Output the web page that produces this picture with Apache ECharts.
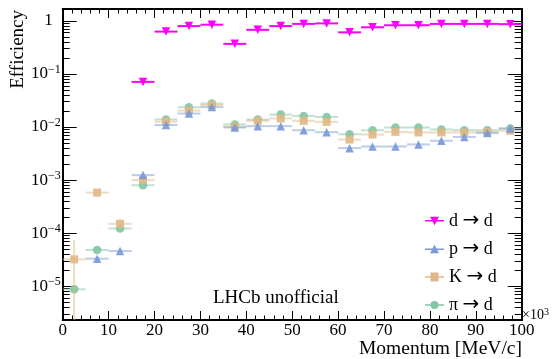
<!DOCTYPE html>
<html><head><meta charset="utf-8">
<script src="https://cdn.jsdelivr.net/npm/echarts@6/dist/echarts.min.js"></script>
<style>html,body{margin:0;padding:0;background:#fff}#c{width:553px;height:359px}</style>
</head><body><div id="c"></div>
<script>
// ---- data ----
const binCenters = [2.5, 7.5, 12.5, 17.5, 22.5, 27.5, 32.5, 37.5, 42.5, 47.5, 52.5, 57.5, 62.5, 67.5, 72.5, 77.5, 82.5, 87.5, 92.5, 97.5];
const binHalfWidth = 2.5;
const effDtoD  = [null, null, null, 0.071, 0.63, 0.80, 0.85, 0.37, 0.68, 0.80, 0.88, 0.90, 0.61, 0.76, 0.83, 0.83, 0.88, 0.88, 0.88, 0.87];
const effPtoD  = [null, 3.3e-5, 4.6e-5, 1.24e-3, 0.0109, 0.018, 0.0238, 0.0098, 0.0104, 0.0104, 0.0087, 0.0080, 0.0040, 0.0043, 0.0043, 0.0047, 0.0055, 0.0065, 0.0077, 0.0094];
const effKtoD  = [3.2e-5, 5.8e-4, 1.5e-4, 1.0e-3, 0.0126, 0.0204, 0.026, 0.0101, 0.0131, 0.0145, 0.0131, 0.0125, 0.0058, 0.0072, 0.0081, 0.0079, 0.0079, 0.0079, 0.0081, 0.0085];
const effPiToD = [8.7e-6, 4.8e-5, 1.22e-4, 8.0e-4, 0.0139, 0.0235, 0.0277, 0.0112, 0.0138, 0.0172, 0.0162, 0.0155, 0.0073, 0.0087, 0.0098, 0.0098, 0.0090, 0.0087, 0.0087, 0.0094];
// vertical error bars that are larger than the markers
const kErrBins = [0];   const kErrLow = [1e-9];  const kErrHigh = [7.4e-5];
const xTickLabels = ['0','10','20','30','40','50','60','70','80','90','100'];
const yDecadeTicks = [1e-5, 1e-4, 1e-3, 1e-2, 1e-1, 1];
const seriesNames = ['d \u2192 d', 'p \u2192 d', 'K \u2192 d', '\u03c0 \u2192 d'];

// ---- style ----
const FONT = "'Liberation Serif', 'DejaVu Serif', serif";
const Y_MIN = 2.3e-6, Y_MAX = 1.68;
const yMinorTicks = [];
for (let e = -6; e <= 0; e++) for (let k = 2; k <= 9; k++) { const v = k * Math.pow(10, e); if (v > Y_MIN && v < Y_MAX) yMinorTicks.push(v); }

const defs = [
  {name: seriesNames[3], values: effPiToD, color: '#84c6a4', bar: 'rgba(132,198,164,0.5)', symbol: 'circle', size: 8.5, rot: 0, eb: [], el: [], eh: [],
   icon: 'path://M0,4.2L19,4.2L19,5.8L0,5.8Z M5.5,5 A4,4 0 1,1 13.5,5 A4,4 0 1,1 5.5,5Z'},
  {name: seriesNames[2], values: effKtoD, color: '#e0b887', bar: 'rgba(224,184,135,0.5)', symbol: 'rect', size: 8, rot: 0, eb: kErrBins, el: kErrLow, eh: kErrHigh,
   icon: 'path://M0,4.2L19,4.2L19,5.8L0,5.8Z M5.5,0.5L13.5,0.5L13.5,9.5L5.5,9.5Z'},
  {name: seriesNames[1], values: effPtoD, color: '#7a99d8', bar: 'rgba(122,153,216,0.5)', symbol: 'triangle', size: 8.5, rot: 0, eb: [], el: [], eh: [],
   icon: 'path://M0,4.2L19,4.2L19,5.8L0,5.8Z M9.5,0.5L14,9L5,9Z'},
  {name: seriesNames[0], values: effDtoD, color: '#ff00ff', bar: '#ff00ff', symbol: 'triangle', size: 8.5, rot: 180, eb: [], el: [], eh: [],
   icon: 'path://M0,4.2L19,4.2L19,5.8L0,5.8Z M5,1L14,1L9.5,9.5Z'}
];

const series = [];
defs.forEach((s, idx) => {
  const rows = [], pts = [];
  binCenters.forEach((x, i) => {
    if (s.values[i] == null) return;
    const k = s.eb.indexOf(i);
    rows.push([x, s.values[i], k >= 0 ? s.el[k] : -1, k >= 0 ? s.eh[k] : -1]);
    pts.push([x, s.values[i]]);
  });
  series.push({
    type: 'custom', name: s.name, xAxisIndex: 0, yAxisIndex: 0, clip: true, silent: true, z: 2 + idx * 2,
    data: rows, encode: {x: 0, y: 1}, itemStyle: {color: s.color},
    renderItem(params, api) {
      const x = api.value(0), y = api.value(1), lo = api.value(2), hi = api.value(3);
      const a = api.coord([x - binHalfWidth, y]), b = api.coord([x + binHalfWidth, y]);
      const children = [{type: 'line', shape: {x1: a[0], y1: a[1], x2: b[0], y2: b[1]}, style: {stroke: s.bar, lineWidth: 2}}];
      if (lo > 0 && hi > 0) {
        const c = api.coord([x, lo]), d = api.coord([x, hi]);
        children.push({type: 'line', shape: {x1: c[0], y1: c[1], x2: d[0], y2: d[1]}, style: {stroke: s.bar, lineWidth: 2}});
      }
      return {type: 'group', children};
    }
  });
  series.push({
    type: 'scatter', name: s.name, xAxisIndex: 0, yAxisIndex: 0, z: 3 + idx * 2, silent: true,
    data: pts, symbol: s.symbol, symbolSize: s.size, symbolRotate: s.rot,
    itemStyle: {color: s.color, opacity: s.rot ? 1 : 0.92}
  });
});

const axisLine = {show: true, lineStyle: {color: '#000', width: 2}};
function yAxisDef(pos, major) {
  return {
    type: 'log', position: pos, min: Y_MIN, max: Y_MAX, logBase: 10,
    axisLine: axisLine, splitLine: {show: false},
    axisTick: {show: true, inside: true, length: major ? 14 : 7, lineStyle: {color: '#000', width: 1}, customValues: major ? yDecadeTicks : yMinorTicks},
    axisLabel: major && pos === 'left' ? {
      show: true, customValues: yDecadeTicks, margin: 2, color: '#000', fontFamily: FONT,
      formatter: v => { const e = Math.round(Math.log10(v)); return e === 0 ? '{one|1}' : '{b|10}{s|' + (e < 0 ? '\u2212' : '') + Math.abs(e) + '}'; },
      rich: {
        b: {fontSize: 17, lineHeight: 20, fontFamily: FONT, color: '#000'},
        s: {fontSize: 12, lineHeight: 12, verticalAlign: 'top', fontFamily: FONT, color: '#000'},
        one: {fontSize: 17, lineHeight: 20, fontFamily: FONT, color: '#000', padding: [0, 8, 0, 0]}
      }
    } : {show: false}
  };
}
function xAxisDef(pos, labels) {
  return {
    type: 'value', position: pos, min: 0, max: 100, interval: 10,
    axisLine: axisLine, splitLine: {show: false},
    axisTick: {show: true, inside: true, length: 9, lineStyle: {color: '#000', width: 1}},
    minorTick: {show: true, splitNumber: 5, length: 4.5, lineStyle: {color: '#000', width: 1}},
    axisLabel: labels ? {show: true, margin: 2, fontSize: 17, color: '#000', fontFamily: FONT,
      formatter: v => xTickLabels[Math.round(v / 10)]} : {show: false}
  };
}

const chart = echarts.init(document.getElementById('c'), null, {renderer: 'canvas'});
chart.setOption({
  animation: false,
  backgroundColor: '#fff',
  grid: {left: 62.7, right: 31.3, top: 9, bottom: 39, containLabel: false},
  xAxis: [xAxisDef('bottom', true), xAxisDef('top', false)],
  yAxis: [yAxisDef('left', true), yAxisDef('left', false), yAxisDef('right', true), yAxisDef('right', false)],
  legend: {
    show: true, orient: 'vertical', left: 420, top: 206, itemGap: 8, itemWidth: 19, itemHeight: 9,
    textStyle: {fontFamily: FONT, fontSize: 18, color: '#000',
      rich: {t: {fontFamily: FONT, fontSize: 18, color: '#000'},
             a: {fontFamily: "'DejaVu Sans', sans-serif", fontSize: 20, color: '#000'}}},
    formatter: name => { const p = name.split(' \u2192 '); return '{t|' + p[0] + ' }{a|\u2192}{t| ' + p[1] + '}'; },
    selectedMode: false,
    data: defs.slice().reverse().map(s => ({name: s.name, icon: s.icon}))
  },
  graphic: [
    {type: 'text', x: 18, y: 10, rotation: Math.PI / 2,
     style: {text: 'Efficiency', fontFamily: FONT, fontSize: 19, fill: '#000', textAlign: 'right', textVerticalAlign: 'middle'}},
    {type: 'text', x: 522, y: 349,
     style: {text: 'Momentum [MeV/c]', fontFamily: FONT, fontSize: 19.5, fill: '#000', textAlign: 'right', textVerticalAlign: 'middle'}},
    {type: 'text', x: 213, y: 298,
     style: {text: 'LHCb unofficial', fontFamily: FONT, fontSize: 19, fill: '#000', textAlign: 'left', textVerticalAlign: 'middle'}},
    {type: 'text', x: 522, y: 315,
     style: {text: '{a|\u00d710}{s|3}', textAlign: 'left', textVerticalAlign: 'middle',
       rich: {a: {fontSize: 14, lineHeight: 16, fontFamily: FONT, color: '#000'},
              s: {fontSize: 10, lineHeight: 10, verticalAlign: 'top', fontFamily: FONT, color: '#000'}}}}
  ],
  series: series
});
</script>
</body></html>
